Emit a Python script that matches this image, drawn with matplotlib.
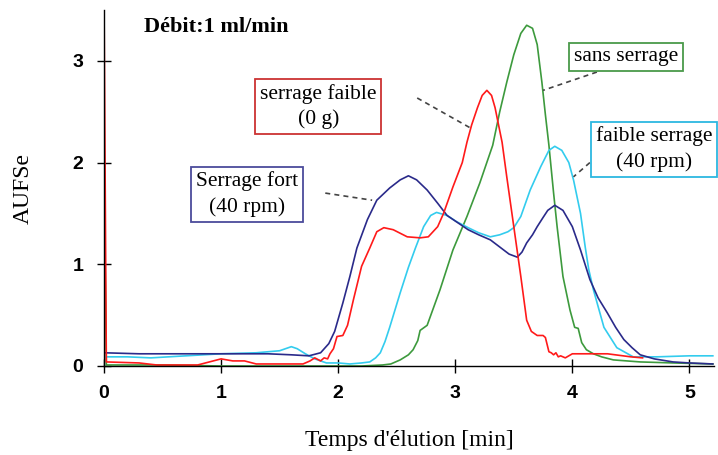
import matplotlib
matplotlib.use("Agg")
import matplotlib.pyplot as plt

# ---- data ----
navy_x = [0, 0.3, 0.6, 1.0, 1.4, 1.6, 1.75, 1.85, 1.92, 1.97, 2.04, 2.10, 2.16, 2.25, 2.33, 2.44,
          2.53, 2.60, 2.67, 2.76, 2.85, 2.93, 3.02, 3.11, 3.20, 3.30, 3.38, 3.46, 3.53, 3.57, 3.61,
          3.66, 3.70, 3.75, 3.79, 3.85, 3.92, 4.00, 4.07, 4.15, 4.22, 4.30, 4.37, 4.44, 4.51, 4.58,
          4.70, 4.86, 5.0, 5.2]
navy_y = [0.13, 0.12, 0.12, 0.12, 0.12, 0.11, 0.10, 0.13, 0.22, 0.34, 0.62, 0.88, 1.16, 1.44, 1.63,
          1.75, 1.83, 1.87, 1.83, 1.73, 1.60, 1.48, 1.41, 1.34, 1.29, 1.24, 1.17, 1.10, 1.07, 1.12,
          1.21, 1.29, 1.37, 1.46, 1.53, 1.58, 1.53, 1.37, 1.14, 0.85, 0.67, 0.52, 0.38, 0.26, 0.18,
          0.11, 0.07, 0.04, 0.03, 0.02]

cyan_x = [0, 0.2, 0.4, 0.7, 1.0, 1.3, 1.5, 1.6, 1.65, 1.72, 1.8, 1.9, 2.0, 2.1, 2.2, 2.27, 2.32,
          2.36, 2.40, 2.44, 2.53, 2.60, 2.66, 2.73, 2.79, 2.84, 2.93, 3.01, 3.11, 3.20, 3.30, 3.38,
          3.45, 3.50, 3.56, 3.64, 3.73, 3.80, 3.85, 3.91, 3.97, 4.01, 4.07, 4.11, 4.14, 4.18, 4.27,
          4.38, 4.52, 4.72, 5.0, 5.2]
cyan_y = [0.09, 0.09, 0.08, 0.10, 0.12, 0.13, 0.15, 0.19, 0.17, 0.12, 0.07, 0.03, 0.03, 0.02, 0.03,
          0.04, 0.08, 0.13, 0.24, 0.38, 0.72, 0.97, 1.16, 1.37, 1.48, 1.51, 1.48, 1.42, 1.36, 1.31,
          1.27, 1.29, 1.32, 1.36, 1.47, 1.73, 1.96, 2.12, 2.16, 2.12, 2.00, 1.83, 1.50, 1.17, 0.95,
          0.75, 0.38, 0.18, 0.09, 0.09, 0.10, 0.10]

red_x = [0, 0, 0.02, 0.3, 0.45, 0.8, 0.9, 1.0, 1.1, 1.2, 1.3, 1.5, 1.7, 1.76, 1.8, 1.85, 1.88, 1.91,
         1.93, 1.96, 1.99, 2.04, 2.08, 2.13, 2.20, 2.27, 2.33, 2.39, 2.47, 2.59, 2.70, 2.77, 2.85,
         2.90, 2.98, 3.06, 3.10, 3.14, 3.19, 3.23, 3.27, 3.31, 3.34, 3.37, 3.40, 3.44, 3.50, 3.56,
         3.61, 3.65, 3.70, 3.75, 3.77, 3.80, 3.82, 3.84, 3.86, 3.88, 3.90, 3.94, 4.0, 4.3, 4.5, 4.6]
red_y = [0.04, 3.6, 0.04, 0.03, 0.01, 0.01, 0.04, 0.07, 0.05, 0.05, 0.02, 0.02, 0.02, 0.05, 0.08,
         0.05, 0.08, 0.07, 0.12, 0.17, 0.29, 0.30, 0.40, 0.65, 0.98, 1.16, 1.32, 1.36, 1.34, 1.27,
         1.26, 1.27, 1.37, 1.50, 1.76, 2.00, 2.20, 2.37, 2.54, 2.66, 2.71, 2.66, 2.54, 2.37, 2.20,
         1.86, 1.37, 0.88, 0.45, 0.34, 0.30, 0.30, 0.28, 0.14, 0.13, 0.11, 0.13, 0.09, 0.10, 0.08,
         0.12, 0.12, 0.09, 0.08]

green_x = [0, 0, 0.02, 0.5, 1.0, 1.5, 2.0, 2.2, 2.38, 2.45, 2.53, 2.60, 2.64, 2.68, 2.70, 2.76, 2.87,
           2.98, 3.10, 3.21, 3.32, 3.38, 3.44, 3.50, 3.56, 3.61, 3.66, 3.70, 3.74, 3.77, 3.80, 3.84,
           3.87, 3.92, 3.98, 4.02, 4.05, 4.08, 4.12, 4.18, 4.25, 4.35, 4.58, 4.86, 5.2]
green_y = [0.01, 1.93, 0.01, 0.01, 0.0, 0.0, 0.0, 0.0, 0.01, 0.02, 0.06, 0.11, 0.16, 0.25, 0.35, 0.40,
           0.75, 1.14, 1.47, 1.80, 2.17, 2.50, 2.79, 3.06, 3.27, 3.35, 3.32, 3.16, 2.79, 2.47, 2.17,
           1.70, 1.37, 0.88, 0.55, 0.38, 0.37, 0.23, 0.16, 0.12, 0.09, 0.06, 0.04, 0.03, 0.02]

x_ticks = [0, 1, 2, 3, 4, 5]
y_ticks = [0, 1, 2, 3]

labels = ["serrage faible\n(0 g)", "Serrage fort\n(40 rpm)", "sans serrage", "faible serrage\n(40 rpm)"]

# ---- figure ----
fig = plt.figure(figsize=(7.18, 4.55), dpi=100)
ax = fig.add_axes([104/718, 1-366/455, (714-104)/718, (366-10)/455])

C_NAVY = "#2a2a8a"
C_CYAN = "#33ccee"
C_RED = "#ff1a1a"
C_GREEN = "#3d9a3d"

ax.plot(green_x, green_y, color=C_GREEN, lw=1.2)
ax.plot(cyan_x, cyan_y, color=C_CYAN, lw=1.2)
ax.plot(navy_x, navy_y, color=C_NAVY, lw=1.2)
ax.plot(red_x, red_y, color=C_RED, lw=1.2)

ax.set_xlim(0, 5.21)
ax.set_ylim(0, 3.5)
ax.set_xticks(x_ticks)
ax.set_yticks(y_ticks)
for s in ["top", "right"]:
    ax.spines[s].set_visible(False)
for s in ["left", "bottom"]:
    ax.spines[s].set_linewidth(1.0)
ax.tick_params(direction="inout", length=10, width=1.0)
ax.tick_params(axis="x", pad=9)
ax.tick_params(axis="y", pad=10)
for lab in ax.get_xticklabels() + ax.get_yticklabels():
    lab.set_fontfamily("Liberation Sans")
    lab.set_fontweight("bold")
    lab.set_fontsize(14)

serif = "Liberation Serif"
ax.set_xlabel("Temps d'élution [min]", fontfamily=serif, fontsize=17, labelpad=20)
ax.set_ylabel("AUFSe", fontfamily=serif, fontsize=17, labelpad=28)

ax.text(0.96, 3.33, "Débit:1 ml/min", fontfamily=serif, fontweight="bold", fontsize=16,
        ha="center", va="center")

boxes = [
    (labels[0], 1.83, 2.55, "#cc3333", (2.675, 2.635), (3.13, 2.34)),
    (labels[1], 1.22, 1.69, "#4b4b9b", (1.89, 1.70), (2.29, 1.63)),
    (labels[2], 4.46, 3.04, "#4a9a4a", (4.21, 2.89), (3.75, 2.71)),
    (labels[3], 4.70, 2.13, "#2cb8e0", (4.15, 2.00), (4.01, 1.86)),
]
for txt, tx, ty, ec, p0, p1 in boxes:
    ax.text(tx, ty, txt, fontfamily=serif, fontsize=15.5, ha="center", va="center",
            linespacing=1.4,
            bbox=dict(boxstyle="square,pad=0.22", fc="white", ec=ec, lw=1.3))
    ax.plot([p0[0], p1[0]], [p0[1], p1[1]], color="#444444", lw=1.2, ls=(0, (3, 2.5)))

fig.savefig("out.png", dpi=100)
